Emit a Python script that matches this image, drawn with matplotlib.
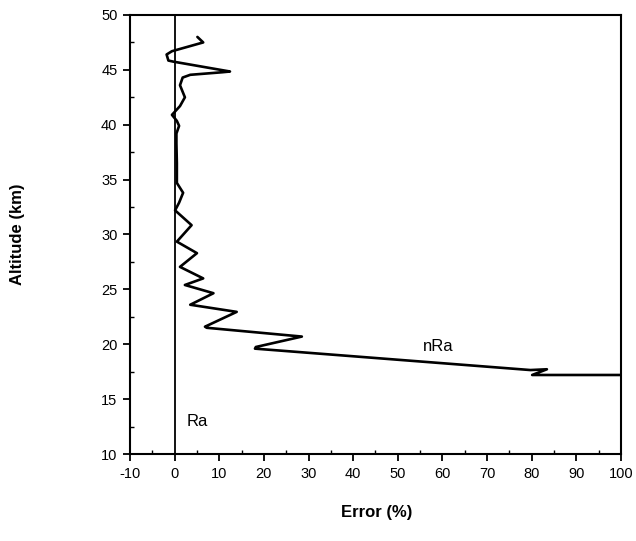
import numpy as np
import matplotlib
matplotlib.use("Agg")
from matplotlib import pyplot as plt

plt.rcParams['font.family'] = ['Liberation Sans', 'DejaVu Sans']

# nRa error profile (error %, altitude km)
error = [5.1, 6.4, -0.6, -1.8, -1.4, -0.3, 12.4, 10.6, 3.5, 1.8, 1.2, 2.3, 1.2,
         -0.6, 0.5, 1.0, 0.4, 0.4, 0.5, 0.5, 1.9, 1.0, 0.1, 3.8, 0.5, 5.0, 1.2,
         6.4, 2.3, 8.7, 3.5, 13.9, 6.8, 7.2, 28.5, 18.2, 18.0, 79.7, 83.4, 80.1,
         100.0]
altitude = [48.0, 47.5, 46.7, 46.4, 45.85, 45.75, 44.85, 44.78, 44.55, 44.3,
            43.6, 42.5, 41.7, 40.9, 40.35, 39.9, 39.2, 38.3, 36.5, 34.7, 33.8,
            32.9, 32.2, 30.85, 29.35, 28.3, 27.05, 26.0, 25.4, 24.65, 23.6,
            22.95, 21.6, 21.5, 20.7, 19.75, 19.6, 17.65, 17.72, 17.2, 17.2]

# Ra reference (zero error)
ra_error = [0, 0]
ra_altitude = [10, 50]

x_ticks = [-10, 0, 10, 20, 30, 40, 50, 60, 70, 80, 90, 100]
x_labels = ['-10', '0', '10', '20', '30', '40', '50', '60', '70', '80', '90', '100']
y_ticks = [10, 15, 20, 25, 30, 35, 40, 45, 50]

fig = plt.figure(figsize=(6.36, 5.41), dpi=100)
ax = fig.add_axes([0.2044, 0.1608, 0.772, 0.8115])

ax.plot(ra_error, ra_altitude, color='black', lw=1.3)
ax.plot(error, altitude, color='black', lw=1.9,
        solid_joinstyle='round', solid_capstyle='round')

ax.set_xlim(-10, 100)
ax.set_ylim(10, 50)
ax.set_xticks(x_ticks)
ax.set_xticklabels(x_labels)
ax.set_yticks(y_ticks)
ax.set_xticks(np.arange(-5, 100, 10), minor=True)
ax.set_yticks(np.arange(12.5, 50, 5), minor=True)
ax.tick_params(which='major', direction='out', length=5, width=1.3,
               labelsize=10.5, pad=4)
ax.tick_params(which='minor', direction='in', length=3, width=1.0)
for s in ax.spines.values():
    s.set_linewidth(1.5)

ax.text(59, 19.75, 'nRa', fontsize=12, ha='center', va='center')
ax.text(2.6, 13.0, 'Ra', fontsize=12, ha='left', va='center')

ax.set_xlabel('Error (%)', fontsize=12, fontweight='bold')
ax.set_ylabel('Altitude (km)', fontsize=12, fontweight='bold')
ax.xaxis.set_label_coords(0.503, -0.116)
ax.yaxis.set_label_coords(-0.214, 0.5)

fig.savefig('out.png', dpi=100)
